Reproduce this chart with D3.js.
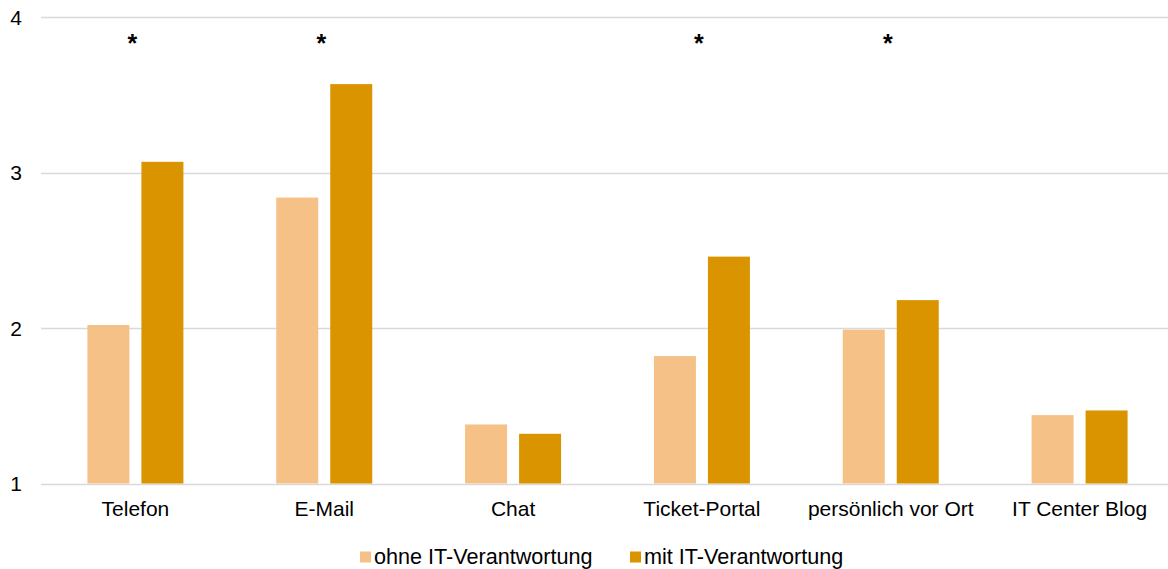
<!DOCTYPE html>
<html>
<head>
<meta charset="utf-8">
<script src="https://cdn.jsdelivr.net/npm/d3@7"></script>
<style>
  html, body { margin: 0; padding: 0; background: #fff; }
  svg { display: block; font-family: "Liberation Sans", Arial, sans-serif; }
</style>
</head>
<body>
<svg id="chart" width="1168" height="569"></svg>
<script>
const categories = ["Telefon", "E-Mail", "Chat", "Ticket-Portal", "persönlich vor Ort", "IT Center Blog"];
const seriesNames = ["ohne IT-Verantwortung", "mit IT-Verantwortung"];
const ohneValues = [2.02, 2.84, 1.38, 1.82, 1.99, 1.44];
const mitValues  = [3.07, 3.57, 1.32, 2.46, 2.18, 1.47];
const significant = [true, true, false, true, true, false];
const yTicks = [1, 2, 3, 4];
const colors = ["#F6C186", "#D99400"];

const svg = d3.select("#chart");
const margin = { left: 41, right: -6, top: 17.3, bottom: 85.5 };
const W = 1168, H = 569;

const x = d3.scaleBand().domain(categories).range([margin.left, W - margin.right]).paddingInner(0).paddingOuter(0);
const y = d3.scaleLinear().domain([1, 4]).range([H - margin.bottom, margin.top]);
const barW = 42, gap = 12;

// gridlines
svg.append("g").selectAll("line").data(yTicks).join("line")
  .attr("x1", margin.left).attr("x2", W)
  .attr("y1", d => Math.round(y(d)) + 0.5).attr("y2", d => Math.round(y(d)) + 0.5)
  .attr("stroke", "#D9D9D9").attr("stroke-width", 1.5);

// y tick labels
svg.append("g").selectAll("text").data(yTicks).join("text")
  .attr("x", 22).attr("y", d => y(d) + 7.5)
  .attr("text-anchor", "end")
  .attr("font-size", 21).attr("fill", "#000")
  .text(d => d);

const data = categories.map((c, i) => ({ c, vals: [ohneValues[i], mitValues[i]] }));

const groups = svg.append("g").selectAll("g").data(data).join("g");
groups.selectAll("rect").data(d => d.vals.map((v, j) => ({ c: d.c, v, j }))).join("rect")
  .attr("x", d => x(d.c) + x.bandwidth() / 2 - (barW + gap / 2) + d.j * (barW + gap))
  .attr("width", barW)
  .attr("y", d => y(d.v))
  .attr("height", d => y(1) - y(d.v))
  .attr("fill", d => colors[d.j]);

// category labels
svg.append("g").selectAll("text").data(categories).join("text")
  .attr("x", d => x(d) + x.bandwidth() / 2)
  .attr("y", 516)
  .attr("text-anchor", "middle")
  .attr("font-size", 21).attr("fill", "#000")
  .text(d => d);

// significance asterisks
svg.append("g").selectAll("text").data(categories.filter((c, i) => significant[i])).join("text")
  .attr("x", d => x(d) + x.bandwidth() / 2 - 3)
  .attr("y", 52)
  .attr("text-anchor", "middle")
  .attr("font-size", 25).attr("font-weight", "bold").attr("fill", "#000")
  .text("*");

// legend
const legendItems = [
  { name: seriesNames[0], color: colors[0], x: 360 },
  { name: seriesNames[1], color: colors[1], x: 630 }
];
const lg = svg.append("g").selectAll("g").data(legendItems).join("g")
  .attr("transform", d => `translate(${d.x},0)`);
lg.append("rect").attr("x", 0).attr("y", 551.5).attr("width", 11).attr("height", 11).attr("fill", d => d.color);
lg.append("text").attr("x", 14).attr("y", 563.5).attr("font-size", 21.6).attr("fill", "#000").text(d => d.name);
</script>
</body>
</html>
